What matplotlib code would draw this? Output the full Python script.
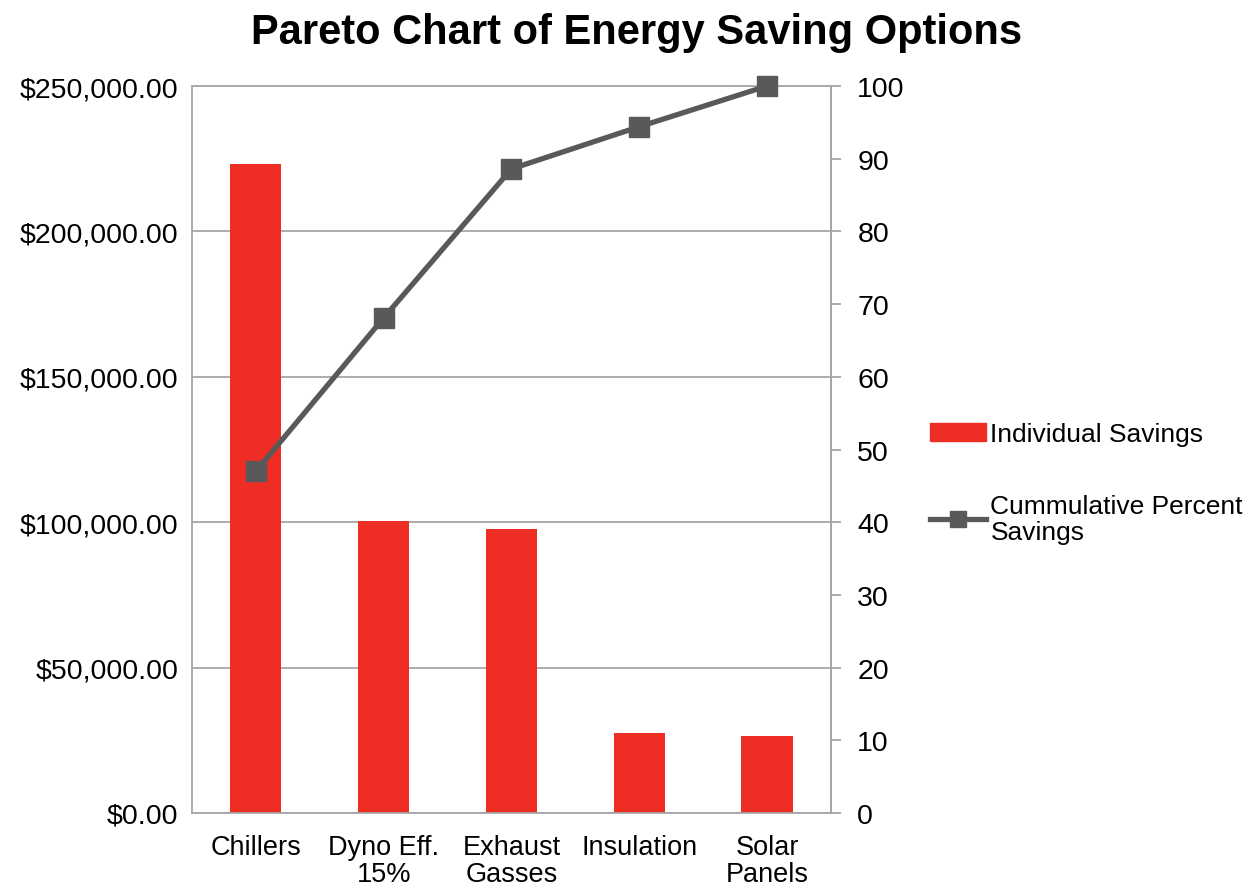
import matplotlib.pyplot as plt
from matplotlib.lines import Line2D
from matplotlib.patches import Patch
from matplotlib.ticker import FuncFormatter

plt.rcParams['font.family'] = ['Liberation Sans', 'DejaVu Sans']

categories = ["Chillers", "Dyno Eff.\n15%", "Exhaust\nGasses", "Insulation", "Solar\nPanels"]
savings = [223200, 100400, 97700, 27500, 26500]
cum_pct = [47.0, 68.1, 88.6, 94.4, 100.0]

bar_color = "#EE2E24"
line_color = "#595959"
grid_color = "#A6A6A6"
fs = 20.5

fig = plt.figure(figsize=(12.48, 8.87), dpi=100)
ax = fig.add_axes([0.1538, 0.0823, 0.512, 0.8196])
x = range(len(categories))
ax.bar(x, savings, width=0.4, color=bar_color, zorder=2)
ax.set_xlim(-0.5, len(categories) - 0.5)
ax.set_ylim(0, 250000)
ax.set_yticks(range(0, 250001, 50000))
ax.yaxis.set_major_formatter(FuncFormatter(lambda v, p: f"${v:,.2f}"))
ax.grid(axis="y", color=grid_color, linewidth=1.3, zorder=0)
ax.set_xticks(list(x))
ax.set_xticklabels(categories, fontsize=19.5, linespacing=1.05)
ax.tick_params(axis="y", length=0, labelsize=fs, pad=10)
ax.tick_params(axis="x", length=0, pad=15)
for s in ax.spines.values():
    s.set_color(grid_color)
    s.set_linewidth(1.3)

ax2 = ax.twinx()
ax2.plot(x, cum_pct, color=line_color, linewidth=3.8, marker="s",
         markersize=15, zorder=3, clip_on=False)
ax2.set_ylim(0, 100)
ax2.set_yticks(range(0, 101, 10))
ax2.tick_params(axis="y", length=7, width=1.3, color=grid_color,
                labelsize=fs, pad=12)
for s in ax2.spines.values():
    s.set_visible(False)
ax2.spines["right"].set_visible(True)
ax2.spines["right"].set_color(grid_color)
ax2.spines["right"].set_linewidth(1.3)

fig.suptitle("Pareto Chart of Energy Saving Options", fontsize=30,
             fontweight="bold", x=0.51, y=0.985)

handles = [Patch(color=bar_color),
           Line2D([0], [0], color=line_color, linewidth=3.8, marker="s", markersize=12)]
leg = fig.legend(handles, ["Individual Savings", "Cummulative Percent\nSavings"],
                 loc="upper left", bbox_to_anchor=(0.745, 0.523), frameon=False,
                 borderaxespad=0, borderpad=0,
                 fontsize=19, labelspacing=1.8, handlelength=2.15, handletextpad=0.15,
                 handleheight=0.7)
for t in leg.get_texts():
    t.set_linespacing(1.15)

fig.savefig("out.png", dpi=100)
